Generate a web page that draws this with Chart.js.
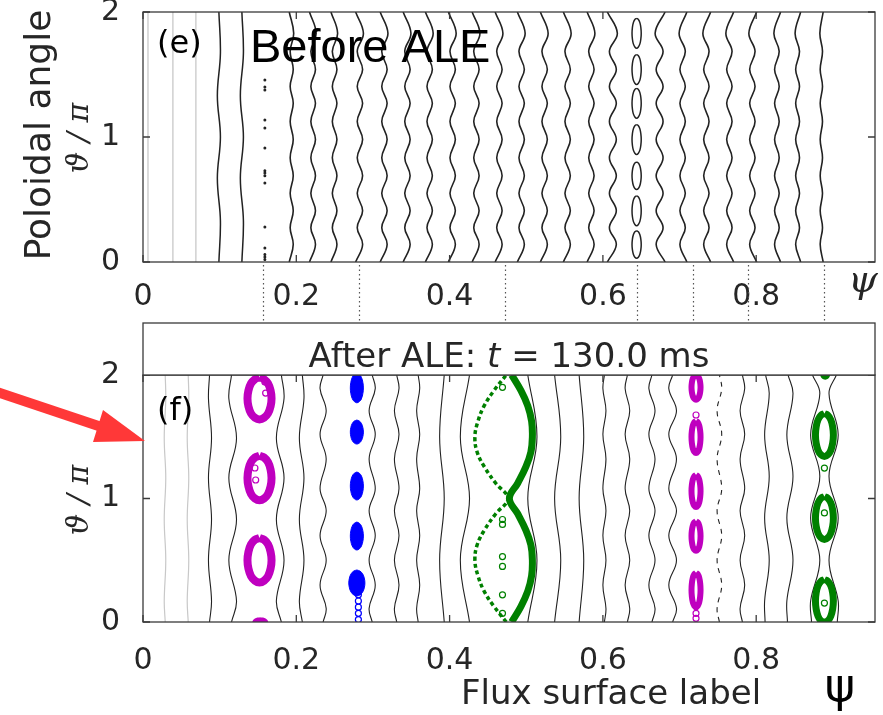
<!DOCTYPE html>
<html>
<head>
<meta charset="utf-8">
<script src="https://cdn.jsdelivr.net/npm/chart.js@4.4.1/dist/chart.umd.min.js"></script>
<style>
  html, body { margin: 0; padding: 0; background: #fff; }
  #wrap { position: relative; width: 883px; height: 715px; overflow: hidden; }
  #top { position: absolute; left: 0; top: 0; }
  #bot { position: absolute; left: 0; top: 320px; }
</style>
</head>
<body>
<div id="wrap">
  <canvas id="top" width="883" height="323"></canvas>
  <canvas id="bot" width="883" height="395"></canvas>
</div>
<script>
// axes
const xTicks = [0, 0.2, 0.4, 0.6, 0.8];
const yTicks = [0, 1, 2];
const psiMax = 0.955;

// ---- panel (e): before ALE ----
const eGray = [0.0065, 0.039, 0.069];
const eSmooth = [0.099, 0.129];
const eWavy = [0.194, 0.222, 0.250, 0.283, 0.315, 0.345, 0.374, 0.404, 0.435, 0.465, 0.494, 0.524,
  0.554, 0.585, 0.613, 0.674, 0.704, 0.735, 0.765, 0.795, 0.827, 0.854, 0.885];
const eWavyAmp = [0.002, 0.003, 0.003, 0.0035, 0.0035, 0.0035, 0.0035, 0.0035, 0.0035, 0.0035, 0.0035, 0.0035,
  0.0035, 0.0035, 0.0045, -0.0045, -0.0035, -0.0035, -0.0035, -0.0035, -0.003, -0.0025, -0.0015];
// wiggle knots (m = 7 chain) and slow wiggle knots
const eRipT = [0, 0.14, 0.275, 0.41, 0.55, 0.69, 0.835, 0.98, 1.125, 1.27, 1.405, 1.54, 1.685, 1.83, 2];
const eRipV = [-1.6, 1, -1, 1, -1, 1, -1, 1, -1, 1, -1, 1, -1, 1.3, -1.6];
const eSlowT = [0, 0.33, 0.67, 1, 1.33, 1.67, 2];
const eSlowV = [0, 1, -1, 1, -1, 1, 0];
// island chain near psi = 0.644
const eIslPsi = 0.644;
const eIslTheta = [0.14, 0.41, 0.69, 0.98, 1.27, 1.54, 1.83];
const eIslHalf = [0.11, 0.12, 0.11, 0.12, 0.12, 0.12, 0.12];
// broken chain near psi = 0.159
const eDotTheta = [1.456, 1.40, 1.376, 1.136, 1.072, 0.912, 0.73, 0.712, 0.69, 0.632, 0.28, 0.112, 0.06, 0.04, 0.02];
// dotted links below panel (e)
const linkPsi = [0.1565, 0.2816, 0.472, 0.644, 0.717, 0.789, 0.889];

// ---- panel (f): after ALE ----
const fGray = [0.0287, 0.0587];
const fLines = [0.0874, 0.117, 0.179, 0.207, 0.235, 0.299, 0.331, 0.359, 0.390, 0.420, 0.508, 0.541,
  0.572, 0.602, 0.632, 0.664, 0.691, 0.782, 0.814, 0.844];
const fLineMode = ['m3', 'm3', 'm3', 'm3', 'm5', 'm5', 'm5', 'm5', 'm2', 'm2', 'm2', 'm2',
  'm2', 'm5', 'm5', 'm5', 'm5', 'm5', 'm3b', 'm3b'];
const fLineAmp = [-0.002, -0.005, 0.005, 0.003, -0.004, 0.004, 0.003, 0.002, -0.003, -0.006, 0.006, 0.004,
  0.003, -0.002, -0.003, -0.004, -0.005, 0.003, -0.003, -0.004];
const fDashed = 0.752;
const ripples = {
  m2: { t: [0, 0.5, 1, 1.5, 2], v: [-1, 1, -1, 1, -1] },
  m3: { t: [0, 0.17, 0.5, 0.83, 1.166, 1.49, 1.81, 2], v: [0.3, -1, 1, -1, 1, -1, 1, 0.3] },
  m5: { t: [0, 0.11, 0.3, 0.5, 0.7, 0.9, 1.08, 1.32, 1.52, 1.71, 1.89, 2], v: [0, -1, 1, -1, 1, -1, 1, -1, 1, -1, 1, 0] },
  m3b: { t: [0, 0.17, 0.5, 0.842, 1.18, 1.514, 1.85, 2], v: [0.8, 1, -1, 1, -1, 1, -1, 0.6] }
};
// magenta chain at psi 0.153
const mag1Theta = [1.81, 1.166, 0.50];
const mag1Half = [0.17, 0.18, 0.18];
const mag1DotPsi = [0.159, 0.160, 0.146, 0.147];
const mag1DotTheta = [1.943, 1.854, 1.247, 1.15];
// blue chain at psi 0.279
const blueTheta = [1.895, 1.538, 1.101, 0.696, 0.316];
const blueHalf = [0.12, 0.097, 0.113, 0.113, 0.105];
const blueWidth = [0.0085, 0.0085, 0.0085, 0.0085, 0.0105];
const blueDotTheta = [0.26, 0.22, 0.17, 0.12, 0.07, 0.02, 1.82];
// green big island near psi 0.475
const gBigT = [0, 0.125, 0.25, 0.375, 0.5, 0.625, 0.75, 0.875, 1, 1.125, 1.25, 1.375, 1.5, 1.625, 1.75, 1.875, 2];
const gBigRight = [0.481, 0.493, 0.502, 0.507, 0.508, 0.506, 0.499, 0.489, 0.478, 0.489, 0.499, 0.506, 0.508, 0.507, 0.502, 0.493, 0.481];
const gBigLeft = [0.474, 0.458, 0.445, 0.437, 0.433, 0.436, 0.446, 0.460, 0.476, 0.460, 0.446, 0.436, 0.433, 0.437, 0.445, 0.458, 0.474];
const gBigDotTheta = [1.90, 0.83, 0.79, 0.53, 0.45, 0.22, 0.07];
// magenta chain at psi 0.722
const mag2Theta = [1.9, 1.498, 1.061, 0.696, 0.259];
const mag2Half = [0.1, 0.13, 0.13, 0.12, 0.14];
const mag2DotTheta = [0.07, 0.03, 1.676];
// green chain at psi 0.889
const gRightTheta = [0.17, 0.842, 1.514];
const gRightDotTheta = [1.246, 0.883, 0.153];

// unit loop used to outline islands
const loopC = [0, 0.38, 0.71, 0.92, 1, 0.92, 0.71, 0.38, 0, -0.38, -0.71, -0.92, -1, -0.92, -0.71, -0.38, 0];
const loopS = [1, 0.92, 0.71, 0.38, 0, -0.38, -0.71, -0.92, -1, -0.92, -0.71, -0.38, 0, 0.38, 0.71, 0.92, 1];

const GREEN = '#008000', MAGENTA = '#bf00bf', BLUE = '#0000ff', INK = '#262626';

function surface(psi, amp, rt, rv, color, width, dash) {
  return {
    data: rt.map((t, i) => ({ x: psi + amp * rv[i], y: t })),
    showLine: true, borderColor: color, borderWidth: width, borderDash: dash || [],
    pointRadius: 0, tension: 0.4, fill: false, order: 2
  };
}
function ring(psi, theta, hPsi, hTheta, color, width, filled) {
  return {
    data: loopC.map((c, i) => ({ x: psi + hPsi * c, y: theta + hTheta * loopS[i] })),
    showLine: true, borderColor: color, borderWidth: width, backgroundColor: color,
    fill: filled ? 'shape' : false, pointRadius: 0, tension: 0.4, order: 1
  };
}
function dots(xs, ys, color, r, filled) {
  return {
    data: ys.map((t, i) => ({ x: Array.isArray(xs) ? xs[i] : xs, y: t })),
    showLine: false, pointRadius: r, pointBorderWidth: 1.2, pointBorderColor: color,
    pointBackgroundColor: filled ? color : 'rgba(0,0,0,0)', order: 0
  };
}

// ---- datasets (e) ----
const topSets = [];
eGray.forEach(p => topSets.push(surface(p, 0, [0, 2], [0, 0], '#c8c8c8', 1.3)));
eSmooth.forEach(p => topSets.push(surface(p, 0.002, eSlowT, eSlowV, '#222', 1.5)));
eWavy.forEach((p, i) => topSets.push(surface(p, eWavyAmp[i], eRipT, eRipV, '#222', 1.6)));
eIslTheta.forEach((t, i) => topSets.push(ring(eIslPsi, t, 0.006, eIslHalf[i], '#222', 1.5, false)));
topSets.push(dots(0.159, eDotTheta, '#222', 0.9, true));

// ---- datasets (f) ----
const botSets = [];
fGray.forEach(p => botSets.push(surface(p, 0.001, ripples.m3.t, ripples.m3.v, '#c8c8c8', 1.2)));
fLines.forEach((p, i) => {
  const r = ripples[fLineMode[i]];
  botSets.push(surface(p, fLineAmp[i], r.t, r.v, '#222', 1.1));
});
botSets.push(surface(fDashed, 0.003, ripples.m5.t, ripples.m5.v, '#222', 1.1, [5, 5]));
botSets.push(surface(0.877, -0.006, ripples.m3b.t, ripples.m3b.v, '#222', 1.1));
botSets.push(surface(0.901, 0.006, ripples.m3b.t, ripples.m3b.v, '#222', 1.1));

mag1Theta.forEach((t, i) => botSets.push(ring(0.152, t, 0.0157, mag1Half[i], MAGENTA, 8, false)));
botSets.push(ring(0.153, 0.0, 0.009, 0.03, MAGENTA, 2, true));
botSets.push(dots(mag1DotPsi, mag1DotTheta, MAGENTA, 3, false));

blueTheta.forEach((t, i) => botSets.push(ring(0.279, t, blueWidth[i], blueHalf[i], BLUE, 1, true)));
botSets.push(dots(0.281, blueDotTheta, BLUE, 3, false));

botSets.push({ data: gBigT.map((t, i) => ({ x: gBigRight[i], y: t })), showLine: true, borderColor: GREEN,
  borderWidth: 7, pointRadius: 0, tension: 0.4, order: 1 });
botSets.push({ data: gBigT.map((t, i) => ({ x: gBigLeft[i], y: t })), showLine: true, borderColor: GREEN,
  borderWidth: 3.5, borderDash: [4, 3], pointRadius: 0, tension: 0.4, order: 1 });
botSets.push(dots(0.469, gBigDotTheta, GREEN, 3, false));

mag2Theta.forEach((t, i) => botSets.push(ring(0.7215, t, 0.0059, mag2Half[i], MAGENTA, 6, false)));
botSets.push(dots(0.7215, mag2DotTheta, MAGENTA, 3, false));

gRightTheta.forEach(t => botSets.push(ring(0.889, t, 0.0117, 0.174, GREEN, 7, false)));
botSets.push(ring(0.89, 2.0, 0.005, 0.03, GREEN, 2, true));
botSets.push(dots(0.889, gRightDotTheta, GREEN, 3, false));

// ---- drawing helpers ----
const frame = {
  id: 'frame',
  afterDatasetsDraw(chart) {
    const { ctx, chartArea: a, scales: { x, y } } = chart;
    ctx.save();
    ctx.strokeStyle = '#3a3a3a';
    ctx.lineWidth = 1.3;
    ctx.strokeRect(a.left, a.top, a.right - a.left, a.bottom - a.top);
    ctx.beginPath();
    xTicks.forEach(v => {
      const px = x.getPixelForValue(v);
      ctx.moveTo(px, a.bottom); ctx.lineTo(px, a.bottom - 7);
      ctx.moveTo(px, a.top); ctx.lineTo(px, a.top + 7);
    });
    yTicks.forEach(v => {
      const py = y.getPixelForValue(v);
      ctx.moveTo(a.left, py); ctx.lineTo(a.left + 7, py);
      ctx.moveTo(a.right, py); ctx.lineTo(a.right - 7, py);
    });
    ctx.stroke();
    ctx.restore();
  }
};

function rotText(ctx, txt, x, y, font) {
  ctx.save();
  ctx.translate(x, y);
  ctx.rotate(-Math.PI / 2);
  ctx.font = font;
  ctx.textAlign = 'center';
  ctx.textBaseline = 'alphabetic';
  ctx.fillText(txt, 0, 0);
  ctx.restore();
}

const topDecor = {
  id: 'topDecor',
  afterDraw(chart) {
    const { ctx, chartArea: a, scales: { x } } = chart;
    ctx.save();
    // dotted links to the lower panel
    ctx.strokeStyle = '#555';
    ctx.lineWidth = 1.2;
    ctx.setLineDash([1.5, 3]);
    ctx.beginPath();
    linkPsi.forEach(p => {
      const px = Math.round(x.getPixelForValue(p)) + 0.5;
      ctx.moveTo(px, a.bottom + 3); ctx.lineTo(px, chart.height);
    });
    ctx.stroke();
    ctx.setLineDash([]);
    ctx.fillStyle = '#000';
    ctx.textBaseline = 'middle';
    ctx.font = '32px "DejaVu Sans"';
    ctx.fillText('(e)', 157, 45);
    ctx.textBaseline = 'alphabetic';
    ctx.font = '47px "Liberation Sans"';
    ctx.fillText('Before ALE', 250, 62);
    ctx.fillStyle = INK;
    rotText(ctx, 'Poloidal angle', 50, 135, '36px "DejaVu Sans"');
    rotText(ctx, 'ϑ / π', 88, 138, 'italic 30px "DejaVu Serif"');
    ctx.font = 'italic 38px "DejaVu Serif"';
    ctx.textAlign = 'center';
    ctx.fillText('ψ', 863, 292);
    ctx.restore();
  }
};

const botDecor = {
  id: 'botDecor',
  afterDraw(chart) {
    const { ctx, chartArea: a } = chart;
    ctx.save();
    // title box
    ctx.fillStyle = '#fff';
    ctx.strokeStyle = '#3a3a3a';
    ctx.lineWidth = 1.3;
    ctx.fillRect(a.left, 3, a.right - a.left, a.top - 3);
    ctx.strokeRect(a.left, 3, a.right - a.left, a.top - 3);
    const parts = [['After ALE: ', '34px "DejaVu Sans"'], ['t', 'italic 34px "DejaVu Sans"'], [' = 130.0 ms', '34px "DejaVu Sans"']];
    let w = 0;
    parts.forEach(p => { ctx.font = p[1]; w += ctx.measureText(p[0]).width; });
    let cx = (a.left + a.right) / 2 - w / 2;
    ctx.fillStyle = INK;
    ctx.textBaseline = 'alphabetic';
    parts.forEach(p => { ctx.font = p[1]; ctx.fillText(p[0], cx, 47); cx += ctx.measureText(p[0]).width; });
    // labels
    ctx.fillStyle = '#000';
    ctx.textBaseline = 'middle';
    ctx.font = '32px "DejaVu Sans"';
    ctx.fillText('(f)', 157, 92);
    ctx.fillStyle = INK;
    rotText(ctx, 'ϑ / π', 88, 180, 'italic 30px "DejaVu Serif"');
    ctx.textAlign = 'center';
    ctx.textBaseline = 'alphabetic';
    ctx.font = '34px "DejaVu Sans"';
    ctx.fillText('Flux surface label', 611, 384);
    ctx.fillStyle = '#000';
    ctx.font = '46px "DejaVu Sans"';
    ctx.fillText('ψ', 840, 381);
    // red arrow
    ctx.strokeStyle = '#ff3838';
    ctx.fillStyle = '#ff3838';
    ctx.lineWidth = 10;
    ctx.beginPath();
    ctx.moveTo(-6, 71); ctx.lineTo(100, 106.5);
    ctx.stroke();
    ctx.beginPath();
    ctx.moveTo(145, 121); ctx.lineTo(103, 90); ctx.lineTo(93, 122); ctx.closePath();
    ctx.fill();
    ctx.restore();
  }
};

function axes(xHeight, xPad) {
  return {
    x: {
      type: 'linear', min: 0, max: psiMax,
      grid: { display: false }, border: { display: false },
      afterBuildTicks: s => { s.ticks = xTicks.map(v => ({ value: v })); },
      afterFit: s => { s.height = xHeight; s.paddingRight = 0; },
      ticks: { padding: xPad, color: INK, maxRotation: 0, autoSkip: false, font: { size: 30 }, callback: v => String(v) }
    },
    y: {
      type: 'linear', min: 0, max: 2,
      grid: { display: false }, border: { display: false },
      afterBuildTicks: s => { s.ticks = yTicks.map(v => ({ value: v })); },
      afterFit: s => { s.width = 143; s.paddingTop = 0; s.paddingBottom = 0; },
      ticks: { padding: 15, color: INK, font: { size: 30 }, callback: v => String(v) }
    }
  };
}

Chart.defaults.font.family = '"DejaVu Sans"';

new Chart(document.getElementById('top'), {
  type: 'scatter',
  data: { datasets: topSets },
  options: {
    responsive: false, animation: false, events: [],
    layout: { padding: { left: 0, right: 8, top: 12, bottom: 0 } },
    plugins: { legend: { display: false }, tooltip: { enabled: false } },
    scales: axes(61, 9)
  },
  plugins: [frame, topDecor]
});

new Chart(document.getElementById('bot'), {
  type: 'scatter',
  data: { datasets: botSets },
  options: {
    responsive: false, animation: false, events: [],
    layout: { padding: { left: 0, right: 8, top: 55, bottom: 0 } },
    plugins: { legend: { display: false }, tooltip: { enabled: false } },
    scales: axes(93, 13)
  },
  plugins: [frame, botDecor]
});
</script>
</body>
</html>
